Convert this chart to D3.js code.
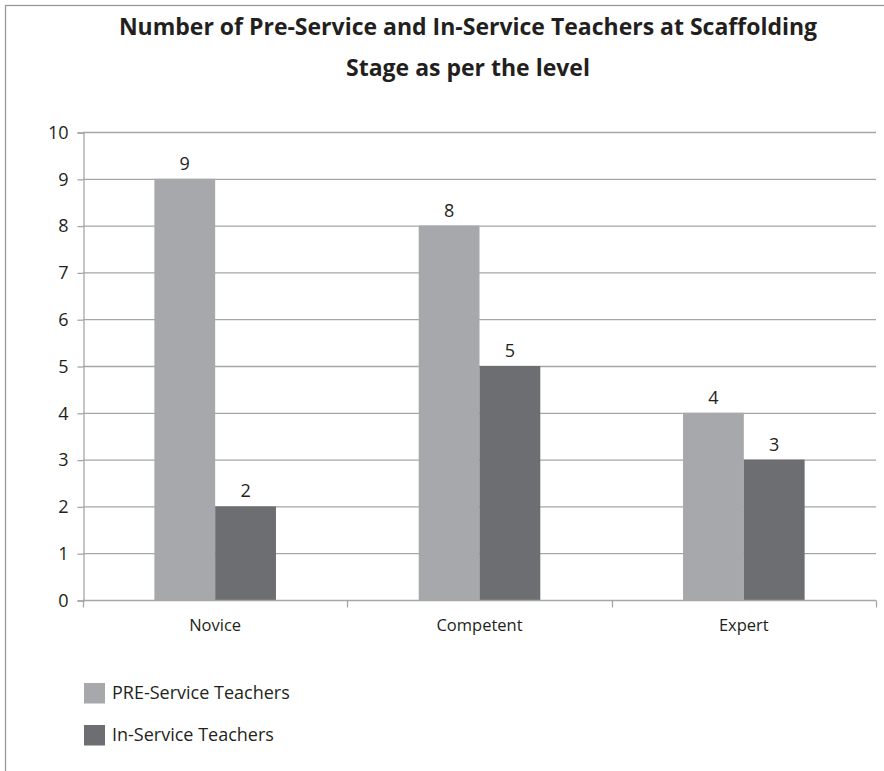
<!DOCTYPE html>
<html><head><meta charset="utf-8">
<script src="https://cdn.jsdelivr.net/npm/d3@7"></script>
<style>
body{margin:0;background:#fff;}
svg{display:block;font-family:"Open Sans",sans-serif;}
</style></head>
<body>
<svg id="c" width="884" height="771"></svg>
<script>
const categories = ["Novice", "Competent", "Expert"];
const seriesNames = ["PRE-Service Teachers", "In-Service Teachers"];
const preService = [9, 8, 4];
const inService = [2, 5, 3];
const yTicks = [0,1,2,3,4,5,6,7,8,9,10];
const titleLines = ["Number of Pre-Service and In-Service Teachers at Scaffolding", "Stage as per the level"];

const colors = ["#a7a8ab", "#6d6e71"];
const textColor = "#231f20";
const gridColor = "#a6a6a6";

const svg = d3.select("#c");
// frame
svg.append("rect").attr("x",5.5).attr("y",5.5).attr("width",900).attr("height",900)
  .attr("fill","none").attr("stroke","#999").attr("stroke-width",1.3);

const m = {left:83, right:876, top:132, bottom:600};
const x = d3.scaleBand().domain(categories).range([m.left, m.right]);
const y = d3.scaleLinear().domain([0,10]).range([m.bottom, m.top]);
const barW = x.bandwidth()*0.23;

// title
const title = svg.append("g");
titleLines.forEach((t,i)=>{
  title.append("text").attr("x",468).attr("y",35 + i*41).attr("text-anchor","middle")
    .attr("font-size",23).attr("font-weight","bold").attr("fill",textColor).text(t);
});

// gridlines
svg.append("g").selectAll("line").data(yTicks.filter(d=>d>0)).join("line")
  .attr("x1",m.left).attr("x2",m.right).attr("y1",d=>y(d)+0.5).attr("y2",d=>y(d)+0.5)
  .attr("stroke",gridColor).attr("stroke-width",1.3);

// y axis
const ya = svg.append("g").attr("transform",`translate(${m.left+0.5},0.5)`)
  .call(d3.axisLeft(y).tickValues(yTicks).tickSize(6).tickPadding(9));
ya.attr("font-size",null).attr("font-family",null);
ya.select(".domain").attr("stroke",gridColor).attr("stroke-width",1.3);
ya.selectAll(".tick line").attr("stroke",gridColor).attr("stroke-width",1.3);
ya.selectAll("text").attr("font-size",18).attr("fill",textColor);

// bars
const series = [preService, inService];
categories.forEach((c,ci)=>{
  series.forEach((s,si)=>{
    const cx = x(c) + x.bandwidth()/2;
    const bx = si===0 ? cx - barW : cx;
    svg.append("rect").attr("x",bx).attr("y",y(s[ci])).attr("width",barW)
      .attr("height",y(0)-y(s[ci])).attr("fill",colors[si]);
    svg.append("text").attr("x",bx+barW/2).attr("y",y(s[ci])-9)
      .attr("text-anchor","middle").attr("font-size",18).attr("fill",textColor).text(s[ci]);
  });
});

// x axis
const xa = svg.append("g").attr("transform",`translate(0,${m.bottom+0.5})`);
xa.append("line").attr("x1",m.left).attr("x2",m.right).attr("stroke",gridColor).attr("stroke-width",1.3);
const bounds = categories.map(c=>x(c)).concat([m.right]);
xa.selectAll(".tk").data(bounds).join("line").attr("class","tk")
  .attr("x1",d=>Math.round(d)+0.5).attr("x2",d=>Math.round(d)+0.5).attr("y1",0).attr("y2",7)
  .attr("stroke",gridColor).attr("stroke-width",1.3);
xa.selectAll(".lb").data(categories).join("text").attr("class","lb")
  .attr("x",d=>x(d)+x.bandwidth()/2).attr("y",30).attr("text-anchor","middle")
  .attr("font-size",16.5).attr("fill",textColor).text(d=>d);

// legend
const lg = svg.append("g");
seriesNames.forEach((n,i)=>{
  lg.append("rect").attr("x",84).attr("y",683+i*42).attr("width",21).attr("height",20.5).attr("fill",colors[i]);
  lg.append("text").attr("x",112).attr("y",698.5+i*42).attr("font-size",18).attr("fill",textColor).text(n);
});
</script>
</body></html>
